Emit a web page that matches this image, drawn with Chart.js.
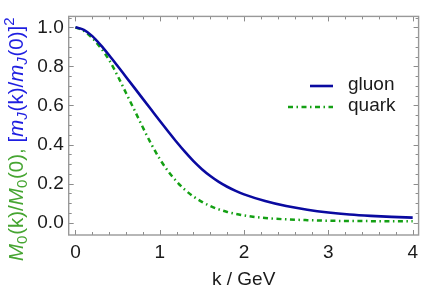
<!DOCTYPE html>
<html>
<head>
<meta charset="utf-8">
<script src="https://cdn.jsdelivr.net/npm/chart.js@4"></script>
<style>
  html, body { margin: 0; padding: 0; background: #fff; }
</style>
</head>
<body>
<canvas id="chart" width="424" height="293"></canvas>
<script>
// momentum k in GeV
const kValues = [0, 0.1, 0.2, 0.3, 0.4, 0.5, 0.6, 0.7, 0.8, 0.9, 1.0, 1.1, 1.2, 1.3, 1.4, 1.5, 1.6, 1.7, 1.8, 1.9, 2.0, 2.25, 2.5, 2.75, 3.0, 3.25, 3.5, 3.75, 4.0];
// [m_J(k)/m_J(0)]^2
const gluon = [1.0, 0.987, 0.955, 0.909, 0.857, 0.802, 0.746, 0.69, 0.634, 0.578, 0.522, 0.467, 0.413, 0.362, 0.315, 0.274, 0.239, 0.209, 0.184, 0.163, 0.145, 0.111, 0.085, 0.066, 0.052, 0.042, 0.035, 0.03, 0.026];
// M_0(k)/M_0(0)
const quark = [1.0, 0.982, 0.945, 0.895, 0.832, 0.752, 0.664, 0.576, 0.487, 0.402, 0.326, 0.263, 0.211, 0.168, 0.134, 0.107, 0.085, 0.068, 0.055, 0.045, 0.037, 0.024, 0.017, 0.013, 0.01, 0.0088, 0.008, 0.0074, 0.007];
const xTicks = [0, 1, 2, 3, 4];
const yTicks = [0, 0.2, 0.4, 0.6, 0.8, 1.0];

const FONT = "'Liberation Sans', Arial, sans-serif";
const BLUE = "rgb(10,10,160)";
const GREEN = "rgb(20,160,20)";

// frame with inside ticks on all four sides
const framePlugin = {
  id: "frame",
  afterDatasetsDraw(chart) {
    const { ctx, chartArea: a, scales: { x, y } } = chart;
    ctx.save();
    ctx.strokeStyle = "#8c8c8c";
    ctx.lineWidth = 1;
    for (let i = 0; i <= 20; i++) {
      const v = i * 0.2;
      const px = Math.round(x.getPixelForValue(v)) + 0.5;
      const len = i % 5 === 0 ? 5 : 3;
      ctx.beginPath();
      ctx.moveTo(px, a.bottom); ctx.lineTo(px, a.bottom - len);
      ctx.moveTo(px, a.top); ctx.lineTo(px, a.top + len);
      ctx.stroke();
    }
    for (let i = 0; i <= 21; i++) {
      const v = i * 0.05;
      const py = Math.round(y.getPixelForValue(v)) + 0.5;
      const len = i % 4 === 0 ? 5 : 3;
      ctx.beginPath();
      ctx.moveTo(a.left, py); ctx.lineTo(a.left + len, py);
      ctx.moveTo(a.right, py); ctx.lineTo(a.right - len, py);
      ctx.stroke();
    }
    ctx.lineWidth = 1.4;
    ctx.strokeStyle = "#999";
    ctx.strokeRect(a.left, a.top, a.right - a.left, a.bottom - a.top);
    ctx.restore();
  }
};

// legend inside plot
const legendPlugin = {
  id: "insideLegend",
  afterDraw(chart) {
    const { ctx } = chart;
    const rows = [
      { ds: chart.data.datasets[0], x0: 310, y: 86 },
      { ds: chart.data.datasets[1], x0: 288, y: 107 }
    ];
    ctx.save();
    rows.forEach(r => {
      ctx.strokeStyle = r.ds.borderColor;
      ctx.lineWidth = r.ds.borderWidth;
      ctx.setLineDash(r.ds.borderDash || []);
      ctx.beginPath();
      ctx.moveTo(r.x0, r.y); ctx.lineTo(333, r.y);
      ctx.stroke();
      ctx.setLineDash([]);
      ctx.fillStyle = "#1a1a1a";
      ctx.font = "19px " + FONT;
      ctx.textBaseline = "middle";
      ctx.fillText(r.ds.label, 348, r.y - 1);
    });
    ctx.restore();
  }
};

// two coloured y axis title
const yTitlePlugin = {
  id: "yTitle",
  afterDraw(chart) {
    const { ctx } = chart;
    const g = "rgb(70,165,50)", b = "rgb(30,30,225)";
    const parts = [
      { t: "M", i: true, c: g }, { t: "0", s: -1, c: g }, { t: "(k)/", c: g },
      { t: "M", i: true, c: g }, { t: "0", s: -1, c: g }, { t: "(0), ", c: g },
      { t: "[", c: b }, { t: "m", i: true, c: b }, { t: "J", i: true, s: -1, c: b }, { t: "(k)/", c: b },
      { t: "m", i: true, c: b }, { t: "J", i: true, s: -1, c: b }, { t: "(0)]", c: b }, { t: "2", s: 1, c: b }
    ];
    ctx.save();
    ctx.translate(23, 261);
    ctx.rotate(-Math.PI / 2);
    ctx.textBaseline = "alphabetic";
    let pos = 0;
    parts.forEach(p => {
      const size = p.s ? 15 : 20.5;
      ctx.font = (p.i ? "italic " : "") + size + "px " + FONT;
      ctx.fillStyle = p.c;
      const dy = p.s === -1 ? 4 : p.s === 1 ? -9 : 0;
      ctx.fillText(p.t, pos, dy);
      pos += ctx.measureText(p.t).width + (p.s === -1 ? 0.8 : 0);
    });
    ctx.restore();
  }
};

new Chart(document.getElementById("chart").getContext("2d"), {
  type: "line",
  data: {
    datasets: [
      {
        label: "gluon",
        data: kValues.map((k, i) => ({ x: k, y: gluon[i] })),
        borderColor: BLUE,
        borderWidth: 2.6,
        pointRadius: 0,
        cubicInterpolationMode: "monotone"
      },
      {
        label: "quark",
        data: kValues.map((k, i) => ({ x: k, y: quark[i] })),
        borderColor: GREEN,
        borderWidth: 2.5,
        borderDash: [5, 3.5, 1.5, 3.5],
        pointRadius: 0,
        cubicInterpolationMode: "monotone"
      }
    ]
  },
  options: {
    responsive: false,
    animation: false,
    devicePixelRatio: 1,
    layout: { padding: { top: 16, right: 1.3, left: 0, bottom: 0 } },
    plugins: { legend: { display: false }, tooltip: { enabled: false } },
    scales: {
      x: {
        type: "linear",
        min: -0.08,
        max: 4.07,
        afterBuildTicks: s => { s.ticks = xTicks.map(v => ({ value: v })); },
        afterFit: s => { s.height = 58; },
        grid: { display: false, drawTicks: false },
        border: { display: false },
        ticks: { padding: 6, color: "#1a1a1a", font: { family: FONT, size: 19 }, maxRotation: 0, callback: v => String(v) },
        title: { display: true, text: "k / GeV", color: "#1a1a1a", font: { family: FONT, size: 19 }, padding: { top: 0, bottom: 2 } }
      },
      y: {
        type: "linear",
        min: -0.063,
        max: 1.056,
        afterBuildTicks: s => { s.ticks = yTicks.map(v => ({ value: v })); },
        afterFit: s => { s.width = 68.7; },
        grid: { display: false, drawTicks: false },
        border: { display: false },
        ticks: { padding: 5, color: "#1a1a1a", font: { family: FONT, size: 19 }, callback: v => v.toFixed(1) }
      }
    }
  },
  plugins: [framePlugin, legendPlugin, yTitlePlugin]
});
</script>
</body>
</html>
